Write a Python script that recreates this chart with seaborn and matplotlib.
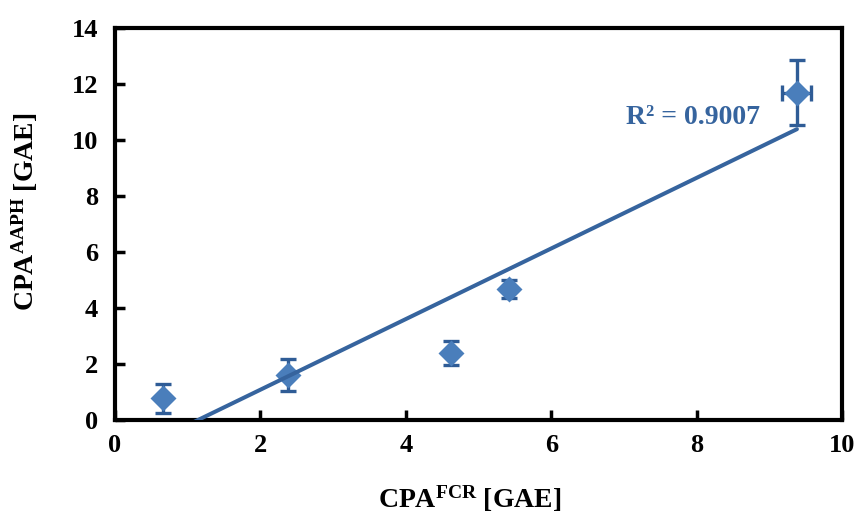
import numpy as np
import pandas as pd
import matplotlib
matplotlib.use("Agg")
import matplotlib.pyplot as plt
import seaborn as sns

# Data
cpa_fcr = [0.66, 2.38, 4.62, 5.42, 9.38]
cpa_aaph = [0.78, 1.60, 2.38, 4.68, 11.68]
err_x = [0.03, 0.03, 0.03, 0.03, 0.20]
err_y = [0.52, 0.57, 0.43, 0.32, 1.16]
x_ticks = [0, 2, 4, 6, 8, 10]
y_ticks = [0, 2, 4, 6, 8, 10, 12, 14]
r2_label = "R² = 0.9007"

sns.set_theme(style="white")
plt.rcParams['font.family'] = ['Liberation Serif', 'DejaVu Serif']
plt.rcParams['mathtext.fontset'] = 'custom'
plt.rcParams['mathtext.rm'] = 'Liberation Serif:bold'
plt.rcParams['mathtext.bf'] = 'Liberation Serif:bold'
plt.rcParams['mathtext.it'] = 'Liberation Serif:bold'

df = pd.DataFrame({"fcr": cpa_fcr, "aaph": cpa_aaph})

fig = plt.figure(figsize=(8.59, 5.15), dpi=100)
ax = fig.add_axes([115/859, 1 - 420/515, (842 - 115)/859, (420 - 28)/515])

err_col = "#2F5C96"
line_col = "#36649E"
mk_col = "#4A7EBB"

ax.errorbar(df["fcr"], df["aaph"], xerr=err_x, yerr=err_y, fmt='none',
            ecolor=err_col, elinewidth=2.4, capsize=6, capthick=2.4, zorder=2)
sns.scatterplot(data=df, x="fcr", y="aaph", marker='D', s=175, color=mk_col,
                edgecolor=mk_col, linewidth=0, ax=ax, zorder=3)
sns.regplot(data=df, x="fcr", y="aaph", scatter=False, ci=None, truncate=True,
            line_kws=dict(color=line_col, lw=2.9, zorder=4), ax=ax)

ax.set_xlim(0, 10)
ax.set_ylim(0, 14)
ax.set_xticks(x_ticks)
ax.set_yticks(y_ticks)
ax.set_xticklabels([str(v) for v in x_ticks], fontsize=19, fontweight='bold')
ax.set_yticklabels([str(v) for v in y_ticks], fontsize=19, fontweight='bold')
ax.tick_params(axis='both', direction='in', length=7, width=2.5, colors='black',
               labelcolor='black')
ax.tick_params(axis='x', pad=10, top=False, bottom=True)
ax.tick_params(axis='y', pad=12, left=True, right=False)
for sp in ax.spines.values():
    sp.set_visible(True)
    sp.set_color('black')
    sp.set_linewidth(3)

ax.set_xlabel(r"CPA$^{\mathrm{FCR}}$ [GAE]", fontsize=20, fontweight='bold', color='black')
ax.set_ylabel(r"CPA$^{\mathrm{AAPH}}$ [GAE]", fontsize=20, fontweight='bold', color='black')
ax.xaxis.set_label_coords((470 - 115)/727, -(484 - 420)/392)
ax.yaxis.set_label_coords(-(115 - 40)/727, (420 - 212)/392)

ax.text(7.03, 10.8, r2_label, fontsize=20, fontweight='bold', color=line_col,
        ha='left', va='center')

ax.grid(False)
fig.savefig("out.png", dpi=100)
